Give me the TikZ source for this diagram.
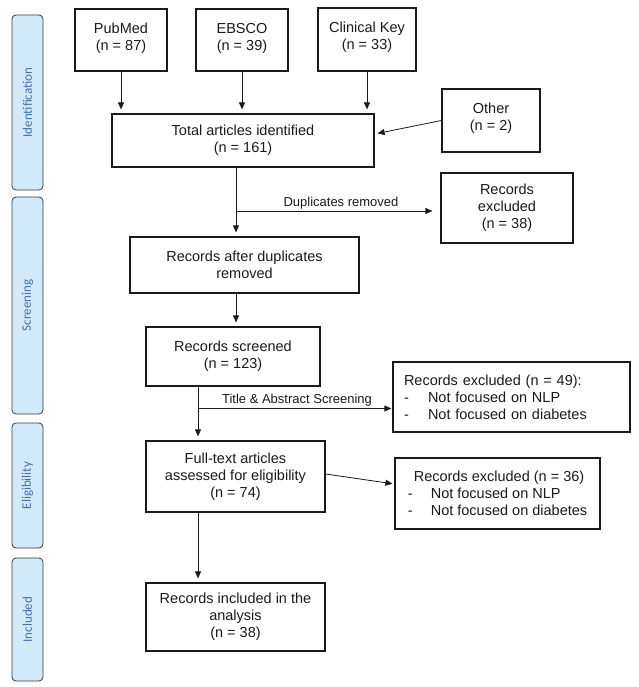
\documentclass[tikz,border=0pt]{standalone}
\usepackage{fontspec}
\setmainfont{Liberation Sans}
\newfontfamily\sidefont{Carlito}
\usetikzlibrary{arrows.meta}
\definecolor{sidefill}{HTML}{D2E9F9}
\definecolor{sidetext}{HTML}{4470A8}
\definecolor{sideline}{HTML}{3A3A3A}
\definecolor{inkc}{HTML}{1A1A1A}
\begin{document}
\begin{tikzpicture}[x=1pt,y=-1pt,
  box/.style={draw=inkc,line width=1.2pt,align=center,inner sep=2pt,
    font=\fontsize{14.5}{17}\selectfont,text=inkc},
  sidebar/.style={draw=sideline,fill=sidefill,rounded corners=4pt,line width=0.8pt,
    minimum width=31pt},
  sidelabel/.style={rotate=90,text=sidetext,font=\sidefont\fontsize{13}{15}\selectfont},
  arr/.style={draw=inkc,line width=0.8pt,-{Triangle[length=7pt,width=6pt]},shorten >=4pt},
  ln/.style={draw=inkc,line width=0.8pt},
  small/.style={font=\fontsize{13}{15}\selectfont,text=inkc,inner sep=0pt}
]
\useasboundingbox (0,0) rectangle (638,687);
% side bars
\node[sidebar,minimum height=175pt] (sid) at (27.5,102.5) {};
\node[sidelabel] (lid) at (sid) {Identification};
\node[sidebar,minimum height=217pt] (sscr) at (27.5,305.5) {};
\node[sidelabel] (lscr) at (sscr) {Screening};
\node[sidebar,minimum height=125pt] (selig) at (27.5,485.5) {};
\node[sidelabel] (lelig) at (selig) {Eligibility};
\node[sidebar,minimum height=123pt] (sincl) at (27.5,619.5) {};
\node[sidelabel] (lincl) at (sincl) {Included};
% boxes
\node[box,minimum width=92pt,minimum height=62pt] (pub) at (121,40) {PubMed\\(n = 87)\\[-10pt]\mbox{}};
\node[box,minimum width=92pt,minimum height=62pt] (ebsco) at (242,40) {EBSCO\\(n = 39)\\[-10pt]\mbox{}};
\node[box,minimum width=98pt,minimum height=63pt] (ck) at (367,39.5) {Clinical Key\\(n = 33)\\[-10pt]\mbox{}};
\node[box,minimum width=262pt,minimum height=53pt] (total) at (243,140.5) {Total articles identified\\(n = 161)};
\node[box,minimum width=98pt,minimum height=63pt] (other) at (491,120.5) {Other\\(n = 2)\\[-10pt]\mbox{}};
\node[box,minimum width=132pt,minimum height=70pt] (exc1) at (507,208) {Records\\excluded\\(n = 38)};
\node[box,minimum width=229pt,minimum height=56pt] (after) at (244.5,265) {Records after duplicates\\removed};
\node[box,minimum width=174pt,minimum height=59pt] (scr) at (233,356.5) {Records screened\\(n = 123)};
\node[box,minimum width=237pt,minimum height=70pt,align=left,text width=215pt,inner xsep=11pt] (exc2) at (511.5,397)
  {Records excluded (n = 49):\\\makebox[24pt][l]{-}Not focused on NLP\\\makebox[24pt][l]{-}Not focused on diabetes};
\node[box,minimum width=179pt,minimum height=71pt] (full) at (235.5,476.5) {Full-text articles\\assessed for eligibility\\(n = 74)};
\node[box,minimum width=205pt,minimum height=71pt,align=left] (exc3) at (497.5,493.5)
  {\hspace{6pt}Records excluded (n = 36)\\\makebox[23pt][l]{-}Not focused on NLP\\\makebox[23pt][l]{-}Not focused on diabetes};
\node[box,minimum width=179pt,minimum height=68pt] (incl) at (235.5,617) {Records included in the\\analysis\\(n = 38)};
% connectors
\draw[arr] (pub.south) -- (pub.south |- total.north);
\draw[arr] (ebsco.south) -- (ebsco.south |- total.north);
\draw[arr] (ck.south) -- (ck.south |- total.north);
\draw[arr,shorten >=3pt] (other.west) -- ([yshift=6.5pt]total.east);
\coordinate (d1) at (236,211);
\draw[ln] (total.south -| d1) -- (d1);
\draw[arr] (d1) -- (after.north -| d1);
\draw[arr,shorten >=8pt] (d1) -- (d1 -| exc1.west);
\node[small] (ldup) at (341,203) {Duplicates removed};
\draw[arr] (after.south -| 236,0) -- (scr.north -| 236,0);
\coordinate (d2) at (198,408.5);
\draw[ln] (scr.south -| d2) -- (d2);
\draw[arr] (d2) -- (full.north -| d2);
\draw[arr,shorten >=1pt] (d2) -- (d2 -| exc2.west);
\node[small] (ltas) at (297,400) {Title \& Abstract Screening};
\draw[arr,shorten >=2pt] ([yshift=2.5pt]full.east) -- ([yshift=9.5pt]exc3.west);
\draw[arr] (full.south -| d2) -- (incl.north -| d2);
\end{tikzpicture}
\end{document}
